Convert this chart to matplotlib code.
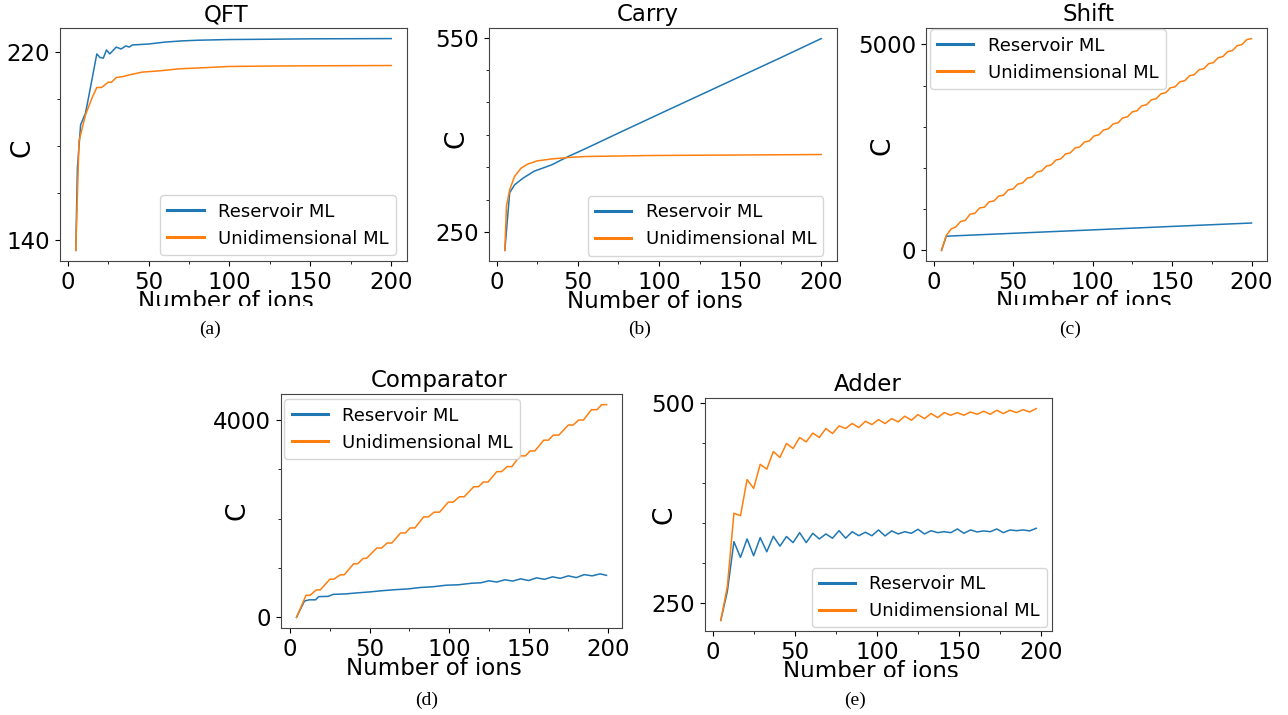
import matplotlib
matplotlib.use("Agg")
import matplotlib.pyplot as plt
from matplotlib.ticker import MultipleLocator
from matplotlib.patches import Rectangle

# ---------------- data ----------------
series_names = ["Reservoir ML", "Unidimensional ML"]

# (a) QFT
qft_res_x = [5, 6, 8, 11, 14, 18, 20, 22, 24, 26, 30, 33, 36, 38, 40, 45, 50, 60, 70, 80, 100, 120, 150, 200]
qft_res_y = [135.8, 170.6, 189.0, 193.9, 204.5, 219.0, 217.5, 217.2, 220.7, 219.0, 221.9, 221.1, 222.4, 221.9,
             222.8, 223.0, 223.2, 224.0, 224.5, 224.8, 225.1, 225.2, 225.4, 225.5]
qft_uni_x = [5, 7, 11, 15, 18, 21, 23, 25, 27, 30, 34, 38, 46, 56, 69, 85, 100, 130, 160, 200]
qft_uni_y = [135.8, 182.0, 193.2, 200.3, 204.8, 204.8, 205.9, 207.0, 207.0, 209.0, 209.4, 210.1, 211.3, 211.8,
             212.7, 213.2, 213.7, 213.9, 214.0, 214.1]

# (b) Carry
carry_res_x = [5, 8, 11, 16, 23, 34, 44, 54, 75, 100, 125, 150, 175, 200]
carry_res_y = [222, 311, 323, 333, 344, 354, 366.7, 378, 402.8, 432, 461, 490, 519, 548.5]
carry_uni_x = [5, 6, 8, 11, 15, 19, 25, 34, 44, 54, 96, 200]
carry_uni_y = [222, 290, 315.5, 336, 348.8, 355, 360, 363, 365.2, 366.7, 368.3, 369.8]

# (c) Shift
shift_res_x = [5, 8, 50, 100, 150, 200]
shift_res_y = [0, 345, 415, 498, 582, 665]
shift_uni_x = list(range(5, 201, 3))
shift_uni_y = [0, 360, 520, 570, 700, 730, 880, 900, 1030, 1050, 1180, 1200, 1320, 1340, 1470, 1490,
               1610, 1636, 1756, 1782, 1902, 1928, 2048, 2074, 2194, 2220, 2340, 2366, 2486, 2512,
               2632, 2658, 2778, 2804, 2924, 2950, 3070, 3096, 3216, 3242, 3362, 3388, 3508, 3534,
               3654, 3680, 3800, 3826, 3946, 3972, 4092, 4118, 4238, 4264, 4384, 4410, 4530, 4556,
               4676, 4702, 4822, 4848, 4968, 4994, 5114, 5140]

# (d) Comparator
comp_res_x = [4, 9, 12, 16, 18, 24, 27, 35, 42, 50, 58, 66, 74, 82, 90, 98, 106, 114, 120, 125, 130, 135,
              140, 145, 150, 155, 160, 165, 170, 175, 180, 185, 190, 195, 199]
comp_res_y = [0, 330, 355, 355, 420, 425, 465, 475, 495, 515, 540, 560, 575, 605, 620, 650, 660, 690, 700,
              740, 715, 760, 735, 780, 745, 800, 770, 820, 790, 840, 805, 865, 840, 880, 850]
comp_uni_x = [4, 10, 12.5, 16.5, 19, 25, 27.5, 31.5, 34, 40, 42.5, 46, 48, 54.5, 57.5, 61, 64, 69.5, 72.5,
              75.5, 78.5, 84, 87, 90.5, 94, 99.5, 102.5, 106.5, 109.5, 115.5, 118.5, 121.5, 124.5, 130,
              133, 136.5, 139.5, 144.5, 148, 151, 154, 159.5, 162.5, 165.5, 169, 175, 178, 181.5, 184.5,
              189.5, 193, 196, 199]
comp_uni_y = [0, 447, 447, 556, 556, 773, 773, 861, 861, 1085, 1085, 1193, 1193, 1403, 1403, 1505, 1505,
              1708, 1708, 1810, 1810, 2034, 2034, 2129, 2129, 2332, 2332, 2441, 2441, 2644, 2644, 2739,
              2739, 2949, 2949, 3051, 3051, 3268, 3268, 3369, 3369, 3586, 3586, 3688, 3688, 3892, 3892,
              3993, 3993, 4203, 4203, 4305, 4305]

# (e) Adder
adder_x = list(range(5, 198, 4))
adder_res_y = [228.4, 264.5, 326.6, 307, 330, 309, 331.6, 314, 333.3, 321, 333, 325.4, 337.8, 325.4, 337,
               330, 336.2, 330.9, 340.3, 330.9, 339, 334, 338.3, 334,
               341.2, 333.7, 340, 336.2, 339, 337, 342, 336.2, 340.3, 337.8, 339, 337.8, 342.4, 337,
               341.2, 338.7, 340, 339, 342.4, 337.8, 341.2, 340.3, 341.2, 340, 343.3]
adder_uni_y = [228.4, 270.7, 362, 359, 404, 393, 423, 417, 439, 431.6, 449, 442.8, 456.5, 451, 462, 456.5,
               467.7, 461.4, 470.9, 467.7, 473.9, 468.9, 476.7, 472.6,
               478.8, 473.9, 480, 475.9, 483, 478, 485, 480, 486.3, 481.3, 487.5, 484.2, 487.5, 484.2,
               488.3, 485.4, 489.2, 485.4, 490.4, 486.3, 490.4, 487.5, 491.2, 488.3, 492.5]

titles = ["QFT", "Carry", "Shift", "Comparator", "Adder"]
captions = ["(a)", "(b)", "(c)", "(d)", "(e)"]
xticks = [0, 50, 100, 150, 200]
yticks_list = [[140, 220], [250, 550], [0, 5000], [0, 4000], [250, 500]]
yminor_list = [20, 50, 1000, 1000, 50]

# ---------------- layout ----------------
W, H = 1288, 715
fig = plt.figure(figsize=(W / 100, H / 100), dpi=100)


def frac(l, t, r, b):
    return [l / W, 1 - b / H, (r - l) / W, (b - t) / H]


boxes = [(60, 28, 407, 261), (489, 28, 837, 261), (926, 28, 1267, 261),
         (281, 394, 622, 628), (705, 398, 1052, 631)]
ylabel_x = [-0.07, -0.057, -0.09, -0.09, -0.078]
ylabel_y = [0.485, 0.525, 0.495, 0.5, 0.5]
title_x = [0.478, 0.455, 0.475, 0.463, 0.470]
xlabel_x = [0.477, 0.478, 0.462, 0.449, 0.477]
legend_loc = ["lower right", "lower right", "upper left", "upper left", "lower right"]
legend_anchor = [(0.968, 0.026), (0.961, 0.023), (0.012, 0.994), (0.010, 0.977), (0.986, 0.016)]
caption_pos = [(210, 329), (640, 329), (1070, 329), (427, 700), (855, 700)]

data = [
    (qft_res_x, qft_res_y, qft_uni_x, qft_uni_y),
    (carry_res_x, carry_res_y, carry_uni_x, carry_uni_y),
    (shift_res_x, shift_res_y, shift_uni_x, shift_uni_y),
    (comp_res_x, comp_res_y, comp_uni_x, comp_uni_y),
    (adder_x, adder_res_y, adder_x, adder_uni_y),
]

blue, orange = "#1f77b4", "#ff7f0e"

for i in range(5):
    ax = fig.add_axes(frac(*boxes[i]))
    rx, ry, ux, uy = data[i]
    ax.plot(rx, ry, color=blue, lw=1.1, label=series_names[0])
    ax.plot(ux, uy, color=orange, lw=1.1, label=series_names[1])
    ax.set_title(titles[i], fontsize=16.5, pad=5, x=title_x[i])
    ax.set_xticks(xticks)
    ax.xaxis.set_minor_locator(MultipleLocator(25))
    ax.set_yticks(yticks_list[i])
    ax.yaxis.set_minor_locator(MultipleLocator(yminor_list[i]))
    ax.tick_params(axis="both", which="major", labelsize=16.5)
    ax.set_xlabel("Number of ions", fontsize=16.5, labelpad=-3)
    ax.xaxis.label.set_x(xlabel_x[i])
    ax.set_ylabel("C", fontsize=19)
    ax.yaxis.set_label_coords(ylabel_x[i], ylabel_y[i])
    for sp in ax.spines.values():
        sp.set_color("#444444")
    leg = ax.legend(loc=legend_loc[i], bbox_to_anchor=legend_anchor[i], borderaxespad=0,
                    fontsize=13, handlelength=2.0)
    for ln in leg.get_lines():
        ln.set_linewidth(2.2)
    cx, cy = caption_pos[i]
    fig.text(cx / W, 1 - cy / H, captions[i], ha="center", va="center",
             fontsize=14, family="Liberation Serif")

# the source panels were cropped just below some of the axis labels
for (l, t, r, b) in [(0, 306, 425, 317), (850, 305, 1288, 317), (640, 677, 1065, 687)]:
    fig.add_artist(Rectangle((l / W, 1 - b / H), (r - l) / W, (b - t) / H,
                             transform=fig.transFigure, facecolor="white", edgecolor="none", zorder=10))

fig.savefig("out.png", dpi=100)
